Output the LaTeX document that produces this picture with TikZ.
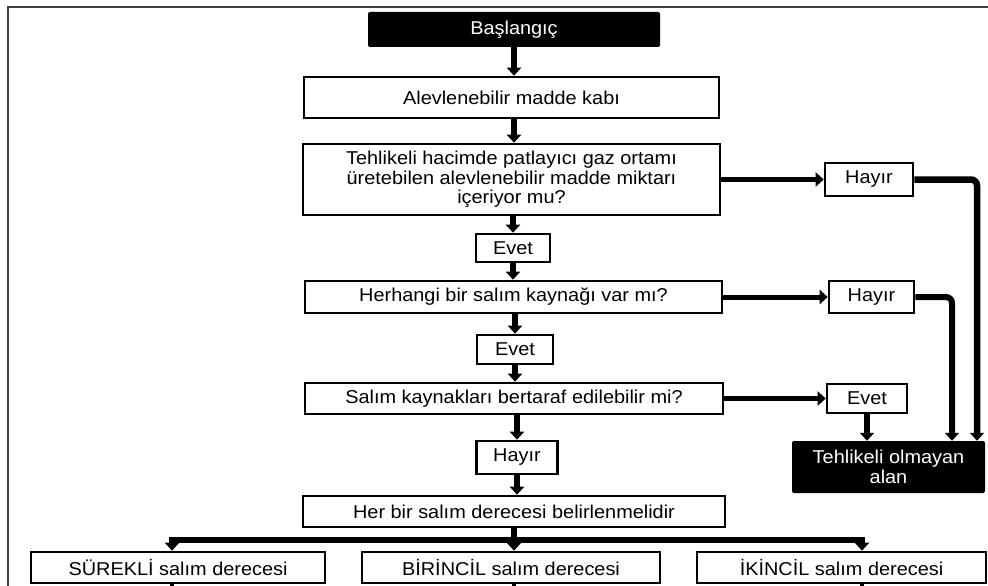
\documentclass[tikz,border=0pt]{standalone}
\usepackage{fontspec}
\setmainfont{Liberation Sans}[FakeStretch=1.07]
\usetikzlibrary{arrows.meta,calc}
\newcommand{\lblfont}{\fontsize{18.6}{19.5}\selectfont}
\begin{document}
\begin{tikzpicture}[x=1pt,y=-1pt,
  box/.style={draw, line width=2.6pt, fill=white, inner sep=0pt, align=center, font=\lblfont},
  darkbox/.style={fill=black, text=white, rounded corners=2pt, inner sep=0pt, align=center, font=\lblfont},
  flow/.style={line width=5.5pt, -{Triangle[width=14pt,length=8pt]}},
  ret/.style={line width=6.5pt, rounded corners=6pt, -{Triangle[width=14pt,length=8pt]}}]
\useasboundingbox (0,0) rectangle (988,586);
\clip (0,0) rectangle (988,586);
\fill[white] (0,0) rectangle (988,586);
% page frame
\draw[line width=1.6pt, black!75] (8,7) rectangle (1000,620);

% main column
\node[darkbox, minimum width=292pt, minimum height=35pt] (start) at (514,29.5) {Başlangıç};
\node[box, minimum width=415pt, minimum height=41pt] (cont) at (511.5,97.5) {Alevlenebilir madde kabı};
\node[box, minimum width=417pt, minimum height=71pt] (q1) at (511.5,179.5) {Tehlikeli hacimde patlayıcı gaz ortamı\\üretebilen alevlenebilir madde miktarı\\içeriyor mu?};
\node[box, minimum width=74pt, minimum height=28pt] (e1) at (513,248) {Evet};
\node[box, minimum width=417pt, minimum height=32pt] (q2) at (513.5,297) {Herhangi bir salım kaynağı var mı?};
\node[box, minimum width=76pt, minimum height=29pt] (e2) at (515,349.5) {Evet};
\node[box, minimum width=418pt, minimum height=31pt] (q3) at (514,398.5) {Salım kaynakları bertaraf edilebilir mi?};
\node[box, minimum width=81pt, minimum height=33pt] (h3) at (517,457.5) {Hayır};
\node[box, minimum width=422pt, minimum height=31pt] (every) at (514,511.5) {Her bir salım derecesi belirlenmelidir};

% right column
\node[box, minimum width=88pt, minimum height=33pt] (h1) at (869,179.5) {Hayır};
\node[box, minimum width=85pt, minimum height=32pt] (h2) at (871.5,297) {Hayır};
\node[box, minimum width=80pt, minimum height=29pt] (e3) at (867,398.5) {Evet};
\node[darkbox, minimum width=193pt, minimum height=52pt] (safe) at (888.5,467) {Tehlikeli olmayan\\alan};

% release grades
\node[box, minimum width=294pt, minimum height=31pt] (s1) at (178,567.5) {SÜREKLİ salım derecesi};
\node[box, minimum width=298pt, minimum height=31pt] (s2) at (511,567.5) {BİRİNCİL salım derecesi};
\node[box, minimum width=289pt, minimum height=31pt] (s3) at (841.5,567.5) {İKİNCİL salım derecesi};

% connectors of the main column
\draw[flow] (start.south) -- (start.south |- cont.north);
\draw[flow] (cont.south -| start.south) -- (start.south |- q1.north);
\draw[flow] (q1.south -| e1) -- (e1.north);
\draw[flow] (e1.south) -- (e1.south |- q2.north);
\draw[flow] (q2.south -| e2) -- (e2.north);
\draw[flow] (e2.south) -- (e2.south |- q3.north);
\draw[flow] (q3.south -| h3) -- (h3.north);
\draw[flow] (h3.south) -- (h3.south |- every.north);

% branches to the right
\draw[flow, line width=5pt] (q1.east) -- (q1.east -| h1.west);
\draw[flow, line width=5pt] (q2.east) -- (q2.east -| h2.west);
\draw[flow, line width=5pt] (q3.east) -- (q3.east -| e3.west);
\coordinate (r1) at (977,0);
\coordinate (r2) at (952,0);
\draw[ret] (h1.east) -| (safe.north -| r1);
\draw[ret, line width=6pt] (h2.east) -| (safe.north -| r2);
\draw[flow, line width=6pt] (e3.south) -- (e3.south |- safe.north);

% split into the three grades
\coordinate (bL) at (172,540);
\coordinate (bR) at (862,540);
\draw[flow, line width=6.5pt] (every.south) -- (every.south |- s2.north);
\draw[flow, line width=6.5pt] (every.south |- bL) -| (s1.north -| bL);
\draw[flow, line width=6.5pt] (every.south |- bR) -| (s3.north -| bR);
\draw[line width=4.5pt] (s1.south -| bL) -- ++(0,12);
\draw[line width=4.5pt] (s2.south -| every.south) -- ++(0,12);
\draw[line width=4.5pt] (s3.south -| bR) -- ++(0,12);
\end{tikzpicture}
\end{document}
